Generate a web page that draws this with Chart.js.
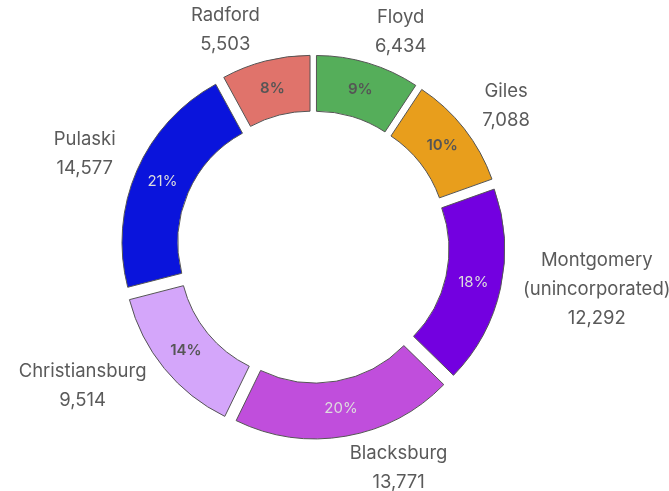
<!DOCTYPE html>
<html>
<head>
<meta charset="utf-8">
<script src="https://cdn.jsdelivr.net/npm/chart.js@4.4.1/dist/chart.umd.min.js"></script>
<style>
  html, body { margin: 0; padding: 0; background: #fff; }
  #wrap { width: 669px; height: 491px; }
</style>
</head>
<body>
<div id="wrap"><canvas id="populationChart"></canvas></div>
<script>
const localities = [
    'Floyd',
    'Giles',
    ['Montgomery', '(unincorporated)'],
    'Blacksburg',
    'Christiansburg',
    'Pulaski',
    'Radford'
];
const population = [6434, 7088, 12292, 13771, 9514, 14577, 5503];
const sliceColors = ['#55ae5a', '#e89e1c', '#7300e0', '#c04edc', '#d4a6fa', '#0a14dc', '#e0736b'];

const EXPLODE = 12;
const FONT = 'Inter, "Noto Sans", sans-serif';

// relative luminance, used to pick dark or light text on a slice
function luminance(hex) {
    const n = parseInt(hex.slice(1), 16);
    const lin = c => {
        c /= 255;
        return c <= 0.03928 ? c / 12.92 : Math.pow((c + 0.055) / 1.055, 2.4);
    };
    return 0.2126 * lin((n >> 16) & 255) + 0.7152 * lin((n >> 8) & 255) + 0.0722 * lin(n & 255);
}

// pull every slice outward along its mid angle
const explodeSlices = {
    id: 'explodeSlices',
    beforeDatasetDraw(chart, args) {
        const ctx = chart.ctx;
        args.meta.data.forEach(arc => {
            const mid = (arc.startAngle + arc.endAngle) / 2;
            ctx.save();
            ctx.translate(Math.cos(mid) * EXPLODE, Math.sin(mid) * EXPLODE);
            arc.draw(ctx, chart.chartArea);
            ctx.restore();
        });
        return false;
    }
};

const sliceLabels = {
    id: 'sliceLabels',
    afterDatasetsDraw(chart) {
        const ctx = chart.ctx;
        const meta = chart.getDatasetMeta(0);
        const data = chart.data.datasets[0].data;
        const total = data.reduce((a, b) => a + b, 0);

        meta.data.forEach((arc, i) => {
            const mid = (arc.startAngle + arc.endAngle) / 2;
            const vx = Math.cos(mid);
            const vy = Math.sin(mid);

            // percentage inside the ring
            const rMid = (arc.innerRadius + arc.outerRadius) / 2 + EXPLODE;
            const light = luminance(sliceColors[i]) > 0.28;
            ctx.save();
            ctx.font = (light ? '600 ' : '400 ') + '15px ' + FONT;
            ctx.fillStyle = light ? '#555555' : '#dddddd';
            ctx.textAlign = 'center';
            ctx.textBaseline = 'middle';
            ctx.fillText(Math.round(data[i] / total * 100) + '%', arc.x + vx * rMid, arc.y + vy * rMid);
            ctx.restore();

            // name and value outside
            const name = chart.data.labels[i];
            const lines = (Array.isArray(name) ? name : [name]).concat(data[i].toLocaleString('en-US'));
            const lineH = 29;
            ctx.save();
            ctx.font = '400 18.5px ' + FONT;
            ctx.fillStyle = '#5a5a5a';
            ctx.textAlign = 'center';
            ctx.textBaseline = 'middle';
            const hw = Math.max(...lines.map(l => ctx.measureText(l).width)) / 2;
            const hh = lines.length * lineH / 2;
            const rOut = arc.outerRadius + EXPLODE;
            const s = Math.max(-1, Math.min(1, vx * 8));
            const cx = arc.x + (rOut + 23) * vx + hw * s;
            const cy = arc.y + (rOut + 3) * vy + hh * (vy - 0.25 * (1 - Math.abs(vy)));
            lines.forEach((l, k) => {
                ctx.fillText(l, cx, cy - hh + lineH / 2 + k * lineH);
            });
            ctx.restore();
        });
    }
};

new Chart(document.getElementById('populationChart'), {
    type: 'doughnut',
    data: {
        labels: localities,
        datasets: [{
            data: population,
            backgroundColor: sliceColors,
            borderColor: '#555555',
            borderWidth: 1
        }]
    },
    options: {
        responsive: true,
        maintainAspectRatio: false,
        animation: false,
        radius: 180,
        cutout: '69%',
        layout: { padding: { left: 0, right: 43, top: 3, bottom: 0 } },
        plugins: {
            legend: { display: false },
            tooltip: { enabled: false }
        }
    },
    plugins: [explodeSlices, sliceLabels]
});
</script>
</body>
</html>
